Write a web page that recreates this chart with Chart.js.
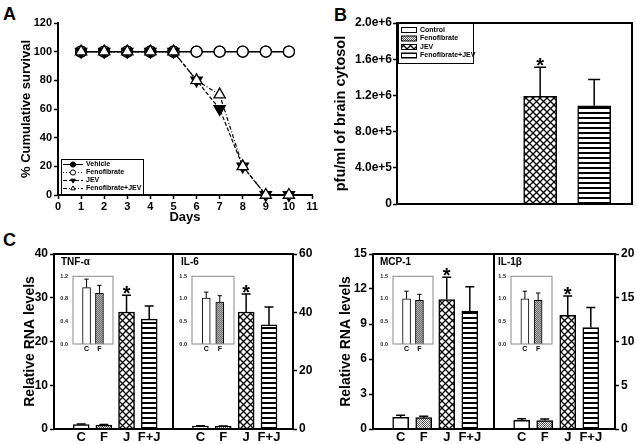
<!DOCTYPE html>
<html lang="en">
<head>
<meta charset="UTF-8">
<title>Fenofibrate and JEV infection</title>
<script src="https://cdn.jsdelivr.net/npm/chart.js"></script>
<style>
  body { margin: 0; background: #fff; font-family: 'Liberation Sans', Arial, sans-serif; }
  #fig { position: relative; width: 636px; height: 444px; overflow: hidden; }
  canvas { position: absolute; }
  .tag { position: absolute; font-weight: bold; font-size: 18px; line-height: 18px; }
</style>
</head>
<body>
<div id="fig">
  <div class="tag" style="left:3px;top:5px">A</div>
  <div class="tag" style="left:334px;top:6px">B</div>
  <div class="tag" style="left:3px;top:231px">C</div>
  <canvas id="survival" width="330" height="232" style="left:0;top:0"></canvas>
  <canvas id="virus" width="306" height="230" style="left:330px;top:0"></canvas>
  <canvas id="tnf" width="180" height="204" style="left:0;top:240px"></canvas>
  <canvas id="il6" width="145" height="204" style="left:170px;top:240px"></canvas>
  <canvas id="mcp" width="182" height="204" style="left:316px;top:240px"></canvas>
  <canvas id="il1b" width="145" height="204" style="left:491px;top:240px"></canvas>
  <canvas id="tnfIn" width="62" height="90" style="left:55px;top:268px"></canvas>
  <canvas id="il6In" width="64" height="90" style="left:174px;top:268px"></canvas>
  <canvas id="mcpIn" width="62" height="90" style="left:375px;top:268px"></canvas>
  <canvas id="il1bIn" width="63" height="90" style="left:493px;top:268px"></canvas>
</div>

<script>
// --- panel A: survival
const days = [1, 2, 3, 4, 5, 6, 7, 8, 9, 10];
const survVehicle = [100, 100, 100, 100, 100, 100, 100, 100, 100, 100];
const survFeno = [100, 100, 100, 100, 100, 100, 100, 100, 100, 100];
const survJev = [100, 100, 100, 100, 100, 80, 60, 20, 0, 0];
const survFenoJev = [100, 100, 100, 100, 100, 80, 70, 20, 0, 0];
const survNames = ['Vehicle', 'Fenofibrate', 'JEV', 'Fenofibrate+JEV'];

// --- panel B: virus titre
const groupNames = ['Control', 'Fenofibrate', 'JEV', 'Fenofibrate+JEV'];
const pfuMean = [0, 0, 1190000, 1085000];
const pfuErr = [null, null, 1510000, 1375000];

// --- panel C: relative RNA levels
const geneCats = ['C', 'F', 'J', 'F+J'];
const insetCats = ['C', 'F'];
const tnfMean = [1.0, 0.9, 26.7, 25.1];
const tnfErr = [1.15, 1.04, 30.6, 28.1];
const il6Mean = [1.02, 0.93, 40.1, 35.7];
const il6Err = [1.15, 1.07, 46.3, 41.8];
const mcpMean = [1.0, 0.97, 11.1, 10.1];
const mcpErr = [1.17, 1.1, 13.0, 12.2];
const il1bMean = [1.0, 0.97, 13.0, 11.6];
const il1bErr = [1.17, 1.13, 15.2, 13.9];
const starIndex = 2;

Chart.defaults.font.family = "'Liberation Sans', Arial, sans-serif";
Chart.defaults.font.weight = 'bold';
Chart.defaults.color = '#000';
Chart.defaults.animation = false;
Chart.defaults.responsive = false;
Chart.defaults.plugins.legend.display = false;
Chart.defaults.plugins.tooltip.enabled = false;

// fill patterns
function pattern(w, h, draw) {
    const c = document.createElement('canvas');
    c.width = w; c.height = h;
    const g = c.getContext('2d');
    g.fillStyle = '#fff';
    g.fillRect(0, 0, w, h);
    draw(g, w, h);
    return g.createPattern(c, 'repeat');
}
const crossFill = pattern(7, 7, (g, w) => {
    g.strokeStyle = '#000';
    g.lineWidth = 1.3;
    for (let k = -1; k <= 1; k++) {
        g.beginPath();
        g.moveTo(k * w, 0); g.lineTo(k * w + w, w);
        g.moveTo(k * w + w, 0); g.lineTo(k * w, w);
        g.stroke();
    }
});
const lineFill = pattern(5, 5, g => { g.fillStyle = '#000'; g.fillRect(0, 2, 5, 2); });
const grayFill = pattern(2, 2, g => { g.fillStyle = '#555'; g.fillRect(0, 0, 1, 1); g.fillRect(1, 1, 1, 1); });
const insetGray = pattern(2, 2, g => {
    g.fillStyle = '#b4b4b4'; g.fillRect(0, 0, 2, 2);
    g.fillStyle = '#6a6a6a'; g.fillRect(0, 0, 1, 1); g.fillRect(1, 1, 1, 1);
});
const groupFills = ['#fff', grayFill, crossFill, lineFill];

// plugins
const frame = {
    id: 'frame',
    afterDraw(chart, args, opts) {
        const a = chart.chartArea, ctx = chart.ctx;
        ctx.save();
        ctx.strokeStyle = opts.color || '#000';
        ctx.lineWidth = opts.width || 2;
        ctx.strokeRect(a.left, a.top, a.right - a.left, a.bottom - a.top);
        ctx.restore();
    }
};

const errorBars = {
    id: 'errorBars',
    afterDatasetsDraw(chart, args, opts) {
        const ctx = chart.ctx, ys = chart.scales.y;
        chart.data.datasets.forEach((ds, di) => {
            if (!ds.errTop) return;
            chart.getDatasetMeta(di).data.forEach((bar, i) => {
                const e = ds.errTop[i];
                if (e == null) return;
                const yt = ys.getPixelForValue(e);
                ctx.save();
                ctx.strokeStyle = '#000';
                ctx.lineWidth = opts.width;
                ctx.beginPath();
                ctx.moveTo(bar.x, bar.y);
                ctx.lineTo(bar.x, yt);
                ctx.moveTo(bar.x - opts.cap, yt);
                ctx.lineTo(bar.x + opts.cap, yt);
                ctx.stroke();
                if (opts.star && i === starIndex) {
                    ctx.fillStyle = '#000';
                    ctx.font = 'bold 20px "Liberation Sans", Arial';
                    ctx.textAlign = 'center';
                    ctx.textBaseline = 'alphabetic';
                    ctx.fillText('*', bar.x, yt + 5);
                }
                ctx.restore();
            });
        });
    }
};

const panelTitle = {
    id: 'panelTitle',
    afterDraw(chart, args, opts) {
        if (!opts.text) return;
        const ctx = chart.ctx, a = chart.chartArea;
        ctx.save();
        ctx.fillStyle = '#000';
        ctx.font = 'bold 10px "Liberation Sans", Arial';
        ctx.textBaseline = 'alphabetic';
        ctx.fillText(opts.text, a.left + opts.dx, a.top + 11);
        ctx.restore();
    }
};

const survivalLegend = {
    id: 'survivalLegend',
    afterDraw(chart) {
        const ctx = chart.ctx, a = chart.chartArea;
        const x0 = a.left + 3, y0 = a.bottom - 36;
        ctx.save();
        ctx.lineWidth = 1;
        ctx.strokeStyle = '#000';
        ctx.strokeRect(x0 + 0.5, y0 + 0.5, 82, 36);
        ctx.font = 'bold 7px "Liberation Sans", Arial';
        ctx.textBaseline = 'middle';
        chart.data.datasets.forEach((ds, i) => {
            const y = y0 + 5.5 + i * 8;
            ctx.setLineDash(ds.borderDash || []);
            ctx.beginPath();
            ctx.moveTo(x0 + 2, y);
            ctx.lineTo(x0 + 22, y);
            ctx.stroke();
            ctx.setLineDash([]);
            ctx.fillStyle = ds.pointBackgroundColor;
            Chart.helpers.drawPoint(ctx, {pointStyle: ds.pointStyle, rotation: ds.pointRotation || 0, radius: 2.6, borderWidth: 1}, x0 + 12, y);
            ctx.fillStyle = '#000';
            ctx.fillText(ds.label, x0 + 25, y);
        });
        ctx.restore();
    }
};

const groupLegend = {
    id: 'groupLegend',
    afterDraw(chart) {
        const ctx = chart.ctx, a = chart.chartArea;
        const x0 = a.left + 1, y0 = a.top;
        ctx.save();
        ctx.lineWidth = 1;
        ctx.strokeStyle = '#000';
        ctx.fillStyle = '#fff';
        ctx.fillRect(x0, y0, 75, 40);
        ctx.strokeRect(x0 + 0.5, y0 + 0.5, 75, 40);
        ctx.font = 'bold 7px "Liberation Sans", Arial';
        ctx.textBaseline = 'middle';
        groupNames.forEach((name, i) => {
            const y = y0 + 7 + i * 8.5;
            ctx.fillStyle = groupFills[i];
            ctx.fillRect(x0 + 3, y - 2.5, 16, 5);
            ctx.strokeRect(x0 + 3.5, y - 2.5, 15, 5);
            ctx.fillStyle = '#000';
            ctx.fillText(name, x0 + 22, y);
        });
        ctx.restore();
    }
};

// ---------------- panel A
function survSet(label, values, style, fill, dash, rotation, radius) {
    return {
        label: label,
        data: days.map((d, i) => ({x: d, y: values[i]})),
        borderColor: '#000',
        borderWidth: dash.length ? 1.2 : 1.5,
        borderDash: dash,
        pointStyle: style,
        pointRotation: rotation,
        pointRadius: radius,
        pointBackgroundColor: fill,
        pointBorderColor: '#000',
        pointBorderWidth: 1.3,
        clip: false
    };
}
const survSets = [
    survSet(survNames[0], survVehicle, 'circle', '#000', [], 0, 5.5),
    survSet(survNames[1], survFeno, 'circle', '#fff', [1, 2], 0, 5.5),
    survSet(survNames[2], survJev, 'triangle', '#000', [4, 2], 180, 6.5),
    survSet(survNames[3], survFenoJev, 'triangle', '#fff', [4, 2, 1, 2], 0, 6.5)
];
survSets[0].order = 3;
survSets[1].order = 2;
survSets[2].order = 1;
survSets[3].order = 0;

new Chart(document.getElementById('survival'), {
    type: 'line',
    data: {datasets: survSets},
    options: {
        layout: {padding: {left: 15, top: 23, right: 18, bottom: 0}},
        scales: {
            x: {
                type: 'linear', min: 0, max: 11,
                ticks: {stepSize: 1, font: {size: 11}, padding: 1},
                grid: {drawOnChartArea: false, tickLength: 4, tickColor: '#000', tickWidth: 1.5},
                border: {color: '#000', width: 2},
                title: {display: true, text: 'Days', font: {size: 13, weight: 'bold'}, padding: {top: 0, bottom: 7}},
                afterFit: s => { s.height = 37; }
            },
            y: {
                min: 0, max: 120,
                ticks: {stepSize: 20, font: {size: 11}, padding: 2},
                grid: {drawOnChartArea: false, tickLength: 4, tickColor: '#000', tickWidth: 1.5},
                border: {color: '#000', width: 2},
                title: {display: true, text: '% Cumulative survival', font: {size: 13, weight: 'bold'}},
                afterFit: s => { s.width = 43; }
            }
        }
    },
    plugins: [survivalLegend]
});

// ---------------- panel B
new Chart(document.getElementById('virus'), {
    type: 'bar',
    data: {
        datasets: [{
            data: pfuMean.map((v, i) => ({x: i, y: v})),
            errTop: pfuErr,
            backgroundColor: groupFills,
            borderColor: '#000',
            borderWidth: 1.5,
            barThickness: 33
        }]
    },
    options: {
        layout: {padding: {left: 0, top: 23, right: 4, bottom: 0}},
        scales: {
            x: {
                type: 'linear', min: -0.65, max: 3.7, offset: false,
                ticks: {display: false},
                grid: {display: false, drawTicks: false},
                border: {display: false},
                afterFit: s => { s.height = 26; }
            },
            y: {
                min: 0, max: 2000000,
                ticks: {stepSize: 400000, font: {size: 12}, padding: 1,
                        callback: v => v === 0 ? '0' : v.toExponential(1)},
                grid: {drawOnChartArea: false, tickLength: 4, tickColor: '#000', tickWidth: 1.5},
                border: {display: false},
                title: {display: true, text: 'pfu/ml of brain cytosol', font: {size: 14.5, weight: 'bold'}, padding: {top: 2, bottom: 2}},
                afterFit: s => { s.width = 67; }
            }
        },
        plugins: {frame: {width: 2}, errorBars: {cap: 6, width: 1.5, star: true}}
    },
    plugins: [frame, errorBars, groupLegend]
});

// ---------------- panel C
function geneChart(id, mean, err, max, step, side, name, nameDx, pad, axisWidth, showTitle) {
    new Chart(document.getElementById(id), {
        type: 'bar',
        data: {
            datasets: [{
                data: mean.map((v, i) => ({x: i, y: v})),
                errTop: err,
                backgroundColor: groupFills,
                borderColor: '#000',
                borderWidth: 1.5,
                barThickness: 16
            }]
        },
        options: {
            layout: {padding: pad},
            scales: {
                x: {
                    type: 'linear', min: -1.2, max: 4.05, offset: false,
                    afterBuildTicks: s => { s.ticks = geneCats.map((c, i) => ({value: i})); },
                    ticks: {callback: v => geneCats[v], font: {size: 13}, padding: 1, autoSkip: false, maxRotation: 0},
                    grid: {display: false, drawTicks: false},
                    border: {display: false},
                    afterFit: s => { s.height = 15; }
                },
                y: {
                    position: side, min: 0, max: max,
                    ticks: {stepSize: step, font: {size: 12}, padding: 2},
                    grid: {drawOnChartArea: false, tickLength: 4, tickColor: '#000', tickWidth: 1.5},
                    border: {display: false},
                    title: {display: showTitle, text: 'Relative RNA levels', font: {size: 14, weight: 'bold'}},
                    afterFit: s => { s.width = axisWidth; }
                }
            },
            plugins: {
                frame: {width: 2},
                errorBars: {cap: 4.5, width: 1.5, star: true},
                panelTitle: {text: name, dx: nameDx}
            }
        },
        plugins: [frame, errorBars, panelTitle]
    });
}

function insetChart(id, mean, err, max, step) {
    new Chart(document.getElementById(id), {
        type: 'bar',
        data: {
            datasets: [{
                data: insetCats.map((c, i) => ({x: i, y: mean[i]})),
                errTop: err.slice(0, insetCats.length),
                backgroundColor: ['#fff', insetGray],
                borderColor: '#000',
                borderWidth: 1,
                barThickness: 8
            }]
        },
        options: {
            layout: {padding: {left: 0, top: 5, right: 4, bottom: 0}},
            scales: {
                x: {
                    type: 'linear', min: -1.05, max: 2.05, offset: false,
                    afterBuildTicks: s => { s.ticks = insetCats.map((c, i) => ({value: i})); },
                    ticks: {callback: v => insetCats[v], font: {size: 7}, padding: 1, autoSkip: false, maxRotation: 0},
                    grid: {display: false, drawTicks: false},
                    border: {display: false},
                    afterFit: s => { s.height = 14; }
                },
                y: {
                    min: 0, max: max,
                    ticks: {stepSize: step, font: {size: 5.5}, padding: 5, color: '#222', callback: v => v.toFixed(1)},
                    grid: {display: false, drawTicks: false},
                    border: {display: false},
                    afterFit: s => { s.width = 18; }
                }
            },
            plugins: {frame: {width: 1, color: '#8a8a8a'}, errorBars: {cap: 2.2, width: 1}}
        },
        plugins: [frame, errorBars]
    });
}

geneChart('tnf', tnfMean, tnfErr, 40, 10, 'left', 'TNF-\u03b1', 7, {left: 18, top: 14, right: 7, bottom: 0}, 36, true);
geneChart('il6', il6Mean, il6Err, 60, 20, 'right', 'IL-6', 8, {left: 3, top: 14, right: 0, bottom: 0}, 22, false);
geneChart('mcp', mcpMean, mcpErr, 15, 3, 'left', 'MCP-1', 7, {left: 18, top: 14, right: 4, bottom: 0}, 39, true);
geneChart('il1b', il1bMean, il1bErr, 20, 5, 'right', 'IL-1\u03b2', 4, {left: 3, top: 14, right: 0, bottom: 0}, 21, false);

insetChart('tnfIn', tnfMean, tnfErr, 1.2, 0.4);
insetChart('il6In', il6Mean, il6Err, 1.5, 0.5);
insetChart('mcpIn', mcpMean, mcpErr, 1.5, 0.5);
insetChart('il1bIn', il1bMean, il1bErr, 1.5, 0.5);
</script>
</body>
</html>
